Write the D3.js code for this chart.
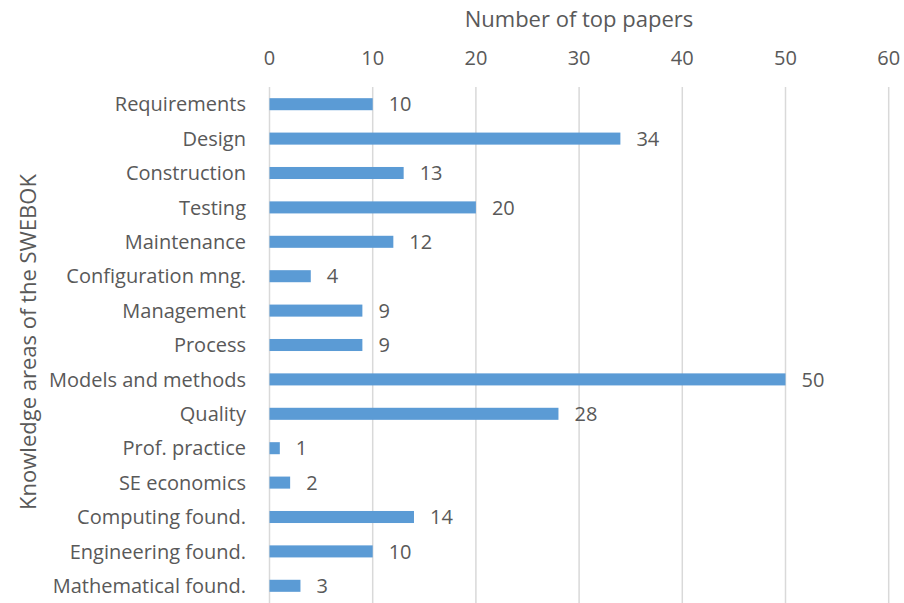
<!DOCTYPE html>
<html>
<head>
<meta charset="utf-8">
<script src="https://cdn.jsdelivr.net/npm/d3@7.9.0/dist/d3.min.js"></script>
<style>
  body { margin: 0; background: #fff; }
  svg text { font-family: "Open Sans", sans-serif; fill: #595959; }
</style>
</head>
<body>
<svg id="chart" width="904" height="603"></svg>
<script>
const categories = [
  'Requirements', 'Design', 'Construction', 'Testing', 'Maintenance',
  'Configuration mng.', 'Management', 'Process', 'Models and methods', 'Quality',
  'Prof. practice', 'SE economics', 'Computing found.', 'Engineering found.', 'Mathematical found.'
];
const papers = [10, 34, 13, 20, 12, 4, 9, 9, 50, 28, 1, 2, 14, 10, 3];
const xTicks = [0, 10, 20, 30, 40, 50, 60];

const svg = d3.select('#chart');
const plotLeft = 269.5, plotRight = 888.7, plotTop = 87, plotBottom = 603;
const labelSize = 20, titleSize = 22;

const x = d3.scaleLinear().domain([0, 60]).range([plotLeft, plotRight]);
const y = d3.scaleBand().domain(categories).range([plotTop, plotBottom]).paddingInner(0.65).paddingOuter(0.325);

// gridlines
svg.append('g')
  .selectAll('line')
  .data(xTicks)
  .join('line')
  .attr('x1', (d) => x(d)).attr('x2', (d) => x(d))
  .attr('y1', plotTop).attr('y2', plotBottom)
  .attr('stroke', '#d9d9d9').attr('stroke-width', 1.5);

// top tick labels
svg.append('g')
  .selectAll('text')
  .data(xTicks)
  .join('text')
  .attr('x', (d) => x(d)).attr('y', 65)
  .attr('text-anchor', 'middle')
  .attr('font-size', labelSize)
  .text((d) => d);

// bars
svg.append('g')
  .selectAll('rect')
  .data(categories)
  .join('rect')
  .attr('x', x(0))
  .attr('y', (d) => y(d))
  .attr('width', (d, i) => x(papers[i]) - x(0))
  .attr('height', y.bandwidth())
  .attr('fill', '#5b9bd5');

// value labels
svg.append('g')
  .selectAll('text')
  .data(categories)
  .join('text')
  .attr('x', (d, i) => x(papers[i]) + 16)
  .attr('y', (d) => y(d) + y.bandwidth() / 2)
  .attr('dy', '0.36em')
  .attr('font-size', labelSize)
  .text((d, i) => papers[i]);

// category labels
svg.append('g')
  .selectAll('text')
  .data(categories)
  .join('text')
  .attr('x', 246)
  .attr('y', (d) => y(d) + y.bandwidth() / 2)
  .attr('dy', '0.36em')
  .attr('text-anchor', 'end')
  .attr('font-size', labelSize)
  .text((d) => d);

// axis titles
svg.append('text')
  .attr('x', 579).attr('y', 27)
  .attr('text-anchor', 'middle')
  .attr('font-size', titleSize)
  .text('Number of top papers');

svg.append('text')
  .attr('transform', `translate(36, 342) rotate(-90)`)
  .attr('text-anchor', 'middle')
  .attr('font-size', titleSize)
  .text('Knowledge areas of the SWEBOK');
</script>
</body>
</html>
